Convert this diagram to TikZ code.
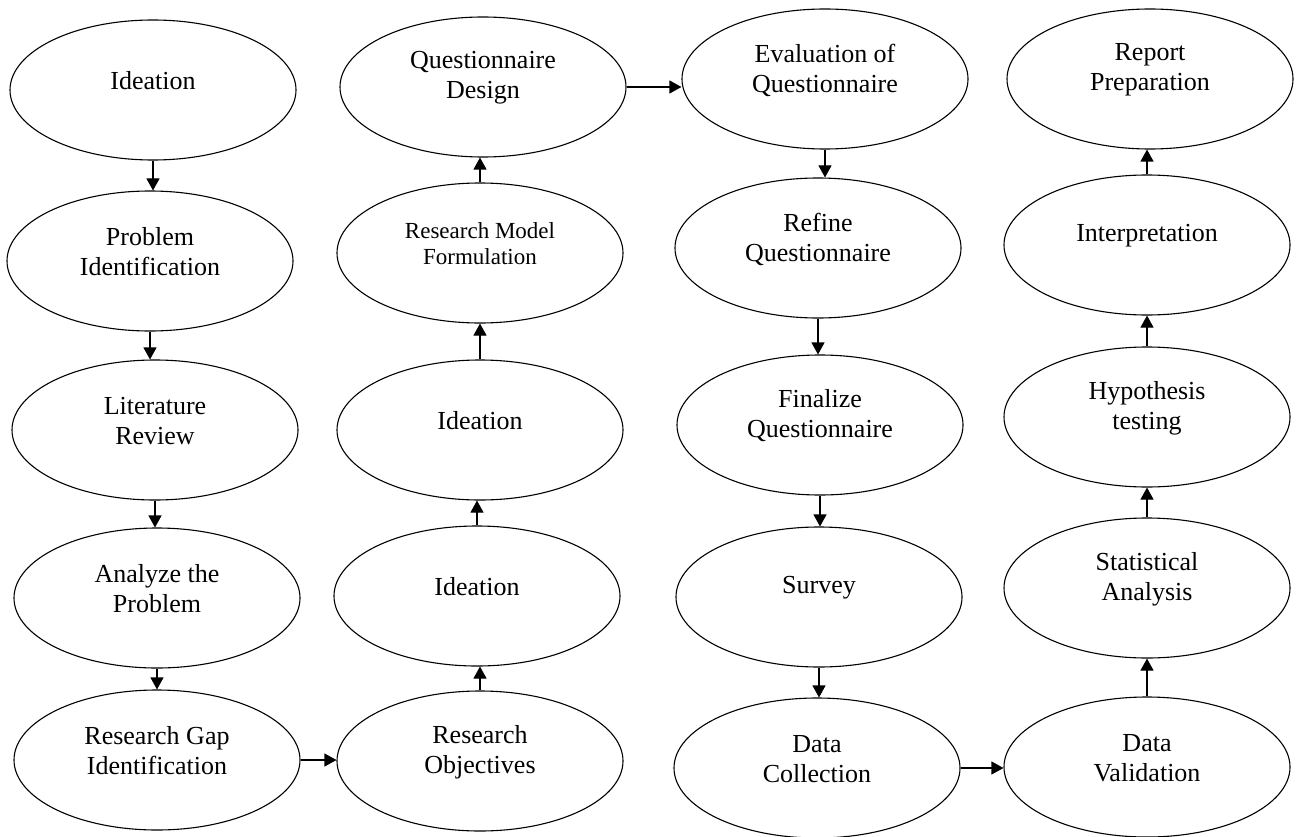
\documentclass[tikz,border=0pt]{standalone}
\usepackage{fontspec}
\setmainfont{Liberation Serif}
\usetikzlibrary{shapes.geometric,arrows.meta}
% one stage: an outlined oval with its caption set a little above the centre
\newcommand\stagenode[5][txt]{%
  \node[oval] (#2) at (#3,#4) {};
  \node[#1] (#2-label) at ([yshift=9pt]#2.center) {#5};}
\begin{document}
\begin{tikzpicture}[x=1pt,y=-1pt,
  oval/.style={ellipse,draw,line width=1.1pt,minimum width=286pt,minimum height=140pt,inner sep=0pt},
  txt/.style={align=center,inner sep=0pt,font=\fontsize{26}{30}\selectfont},
  smalltxt/.style={txt,font=\fontsize{23}{26}\selectfont},
  arr/.style={-{Triangle[length=12pt,width=13pt]},line width=1.1pt}]
\useasboundingbox (0,0) rectangle (1297,837);

% first column, top to bottom
\stagenode{ide}{153}{90}{Ideation}
\stagenode{pid}{150}{261}{Problem\\Identification}
\stagenode{lit}{155}{430}{Literature\\Review}
\stagenode{ana}{157}{598}{Analyze the\\Problem}
\stagenode{gap}{157}{760}{Research Gap\\Identification}

% second column, bottom to top
\stagenode{obj}{480}{761}{Research\\Objectives}
\stagenode{ideb}{477}{596}{Ideation}
\stagenode{idec}{480}{430}{Ideation}
\stagenode[smalltxt]{rmf}{480}{253}{Research Model\\Formulation}
\stagenode{qd}{483}{87}{Questionnaire\\Design}

% third column, top to bottom
\stagenode{evq}{825}{79}{Evaluation of\\Questionnaire}
\stagenode{ref}{818}{248}{Refine\\Questionnaire}
\stagenode{fin}{820}{425}{Finalize\\Questionnaire}
\stagenode{sur}{819}{597}{Survey}
\stagenode{dc}{817}{768}{Data\\Collection}

% fourth column, bottom to top
\stagenode{dv}{1147}{767}{Data\\Validation}
\stagenode{sta}{1147}{588}{Statistical\\Analysis}
\stagenode{hyp}{1147}{417}{Hypothesis\\testing}
\stagenode{int}{1147}{245}{Interpretation}
\stagenode{rep}{1150}{79}{Report\\Preparation}

% downward flow
\draw[arr] (ide.south) -- (ide.south |- pid.north);
\draw[arr] (pid.south) -- (pid.south |- lit.north);
\draw[arr] (lit.south) -- (lit.south |- ana.north);
\draw[arr] (ana.south) -- (ana.south |- gap.north);
\draw[arr] (gap.east) -- (gap.east -| obj.west);

% upward flow
\draw[arr] (obj.north) -- (obj.north |- ideb.south);
\draw[arr] (ideb.north) -- (ideb.north |- idec.south);
\draw[arr] (idec.north) -- (idec.north |- rmf.south);
\draw[arr] (rmf.north) -- (rmf.north |- qd.south);
\draw[arr] (qd.east) -- (qd.east -| evq.west);

% downward flow
\draw[arr] (evq.south) -- (evq.south |- ref.north);
\draw[arr] (ref.south) -- (ref.south |- fin.north);
\draw[arr] (fin.south) -- (fin.south |- sur.north);
\draw[arr] (sur.south) -- (sur.south |- dc.north);
\draw[arr] (dc.east) -- (dc.east -| dv.west);

% upward flow
\draw[arr] (dv.north) -- (dv.north |- sta.south);
\draw[arr] (sta.north) -- (sta.north |- hyp.south);
\draw[arr] (hyp.north) -- (hyp.north |- int.south);
\draw[arr] (int.north) -- (int.north |- rep.south);
\end{tikzpicture}
\end{document}
